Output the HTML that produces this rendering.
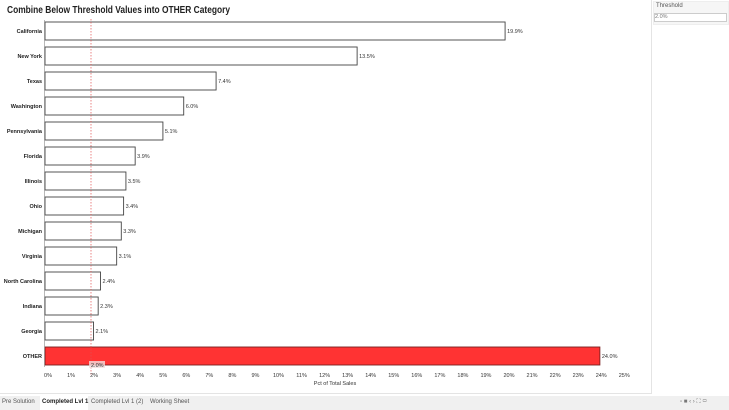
<!DOCTYPE html><html><head><style>
body{margin:0;width:729px;height:410px;background:#fff;font-family:"Liberation Sans",sans-serif;position:relative;overflow:hidden}
.t{position:absolute;white-space:nowrap}
</style></head><body>
<div style="position:absolute;left:0;top:0;width:651px;height:393px;border-right:1px solid #e4e4e4;border-bottom:1px solid #e4e4e4"></div>
<div class="t" style="left:7px;top:4px;font-size:10.5px;font-weight:bold;color:#222;transform:scaleX(0.8);transform-origin:0 0">Combine Below Threshold Values into OTHER Category</div>
<svg width="729" height="410" style="position:absolute;left:0;top:0" font-family="Liberation Sans" font-size="5.5">
<g id="bars"></g>
<line x1="91" y1="19" x2="91" y2="376" stroke="#e05050" stroke-width="0.7" stroke-dasharray="1.5,1.5"/>
<rect x="89" y="361" width="16" height="7" fill="#f2dede" opacity="0.8"/>
<text x="91" y="367" font-size="5.5" fill="#333">2.0%</text>
<line x1="44.5" y1="20" x2="44.5" y2="367" stroke="#888" stroke-width="0.6"/>
<g id="ticks" fill="#333" text-anchor="middle"></g>
<text x="335" y="385" text-anchor="middle" fill="#333">Pct of Total Sales</text>
</svg>
<div style="position:absolute;left:653px;top:1px;width:74px;height:22px;background:#f6f6f6;border:1px solid #eee"></div>
<div class="t" style="left:656px;top:3px;font-size:6px;color:#555">Threshold</div>
<div style="position:absolute;left:654px;top:13px;width:71px;height:7px;background:#fff;border:1px solid #ccc;font-size:5.5px;color:#777;line-height:7px">2.0%</div>
<div style="position:absolute;left:0;top:396px;width:729px;height:14px;background:#f0f0f0"></div>
<div style="position:absolute;left:40px;top:396px;width:48px;height:14px;background:#fff"></div>
<div class="t" style="left:2px;top:399px;font-size:6px;color:#555">Pre Solution</div>
<div class="t" style="left:42px;top:399px;font-size:6px;color:#222;font-weight:bold">Completed Lvl 1</div>
<div class="t" style="left:91px;top:399px;font-size:6px;color:#555">Completed Lvl 1 (2)</div>
<div class="t" style="left:150px;top:399px;font-size:6px;color:#555">Working Sheet</div>
<div class="t" style="left:680px;top:399px;font-size:6px;color:#777">▫ ■ ‹ › ⛶ ▭</div>
<script>
var d=[["California",19.9],["New York",13.5],["Texas",7.4],["Washington",6.0],["Pennsylvania",5.1],["Florida",3.9],["Illinois",3.5],["Ohio",3.4],["Michigan",3.3],["Virginia",3.1],["North Carolina",2.4],["Indiana",2.3],["Georgia",2.1],["OTHER",24.0]];
var s=23.12,x0=45,h="";
d.forEach(function(r,i){var y=31+25*i,w=r[1]*s,o=r[0]=="OTHER";
h+='<rect x="'+x0+'" y="'+(y-9)+'" width="'+w+'" height="18" fill="'+(o?'#ff3333':'#fff')+'" stroke="'+(o?'#7a2020':'#444')+'" stroke-width="0.9"/>';
h+='<text x="42" y="'+(y+2)+'" text-anchor="end" font-weight="bold" fill="#222">'+r[0]+'</text>';
h+='<text x="'+(x0+w+2)+'" y="'+(y+2)+'" fill="#333">'+r[1].toFixed(1)+'%</text>';});
document.getElementById('bars').innerHTML=h;
var t="";for(var k=0;k<=25;k++)t+='<text x="'+(x0+3+k*23.05)+'" y="377">'+k+'%</text>';
document.getElementById('ticks').innerHTML=t;
</script>
</body></html>
